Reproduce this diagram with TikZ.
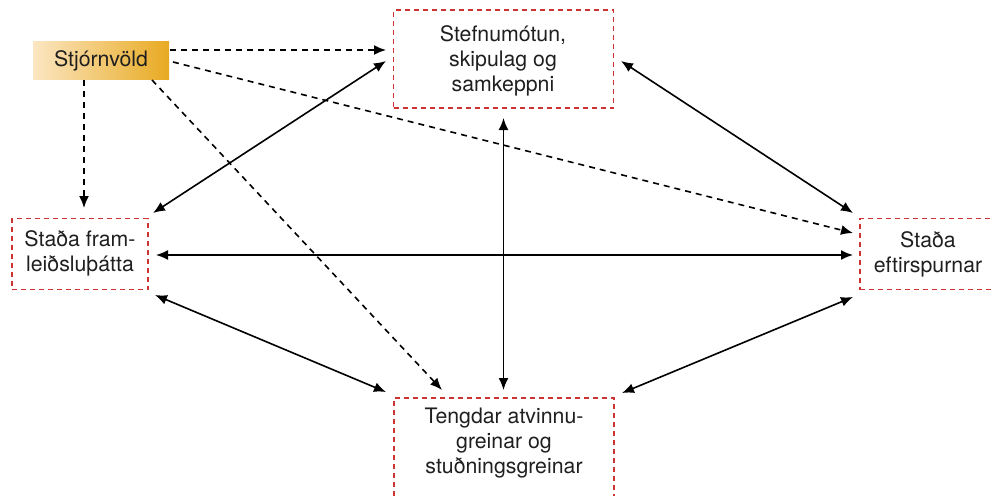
\documentclass[tikz,border=0pt]{standalone}
\usepackage{fontspec}
\setmainfont{TeX Gyre Heros}
\usetikzlibrary{arrows.meta}
\definecolor{boxred}{HTML}{CC3333}
\definecolor{goldL}{HTML}{FBE6C2}
\definecolor{goldR}{HTML}{E8AA22}
\tikzset{
  redbox/.style={draw=boxred, line width=1.6pt, dash pattern=on 5pt off 4pt, inner sep=0pt},
  lbl/.style={align=center, font=\fontsize{21.3}{25}\selectfont, text=black!88, inner sep=0pt},
  conn/.style={line width=1.6pt, {Latex[length=12pt,width=10pt]}-{Latex[length=12pt,width=10pt]}},
  dconn/.style={line width=1.6pt, dash pattern=on 6pt off 5pt, -{Latex[length=12pt,width=10pt]}},
}
\begin{document}
\begin{tikzpicture}[x=1pt,y=-1pt]
\useasboundingbox (0,0) rectangle (992,495);
\clip (0,0) rectangle (992,495);
% boxes
\node[redbox, minimum width=220pt, minimum height=98pt] (top) at (503.5,59) {};
\node[redbox, minimum width=136pt, minimum height=71pt] (left) at (80,254) {};
\node[redbox, minimum width=160pt, minimum height=71pt] (right) at (940,254) {};
\node[redbox, minimum width=220pt, minimum height=124pt] (bot) at (504,460) {};
\node[lbl] (toptxt) at (503,61) {Stefnumótun,\\skipulag og\\samkeppni};
\node[lbl] (lefttxt) at (80,253) {Staða fram-\\leiðsluþátta};
\node[lbl] (righttxt) at (928,254) {Staða\\eftirspurnar};
\node[lbl, anchor=north] (bottxt) at (504,408) {Tengdar atvinnu-\\greinar og\\stuðningsgreinar};
\node[lbl, minimum width=136pt, minimum height=38pt, left color=goldL, right color=goldR, inner sep=0pt] (gov) at (101,60.5) {Stjórnvöld};
% endpoints
\coordinate (g1) at (170,50);
\coordinate (g2) at (173,62);
\coordinate (g3) at (152,80);
\coordinate (g4) at (84,80);
\coordinate (tL) at (386,50);
\coordinate (rD) at (853,233);
\coordinate (bD) at (442,390);
\coordinate (lD) at (84,208);
\coordinate (lt) at (153,213);
\coordinate (tl) at (386,61);
\coordinate (tb) at (503.5,118);
\coordinate (bt) at (503.5,390);
\coordinate (tr) at (621,61);
\coordinate (rt) at (853,213);
\coordinate (lr) at (156,255);
\coordinate (rl) at (853,255);
\coordinate (lb) at (155,295);
\coordinate (bl) at (386,392);
\coordinate (rb) at (853,297);
\coordinate (br) at (622,393);
% dashed from government
\draw[dconn] (g1) -- (tL);
\draw[dconn] (g2) -- (rD);
\draw[dconn] (g3) -- (bD);
\draw[dconn] (g4) -- (lD);
% solid double arrows
\draw[conn] (lt) -- (tl);
\draw[conn] (tb) -- (bt);
\draw[conn] (tr) -- (rt);
\draw[conn] (lr) -- (rl);
\draw[conn] (lb) -- (bl);
\draw[conn] (rb) -- (br);
\end{tikzpicture}
\end{document}
